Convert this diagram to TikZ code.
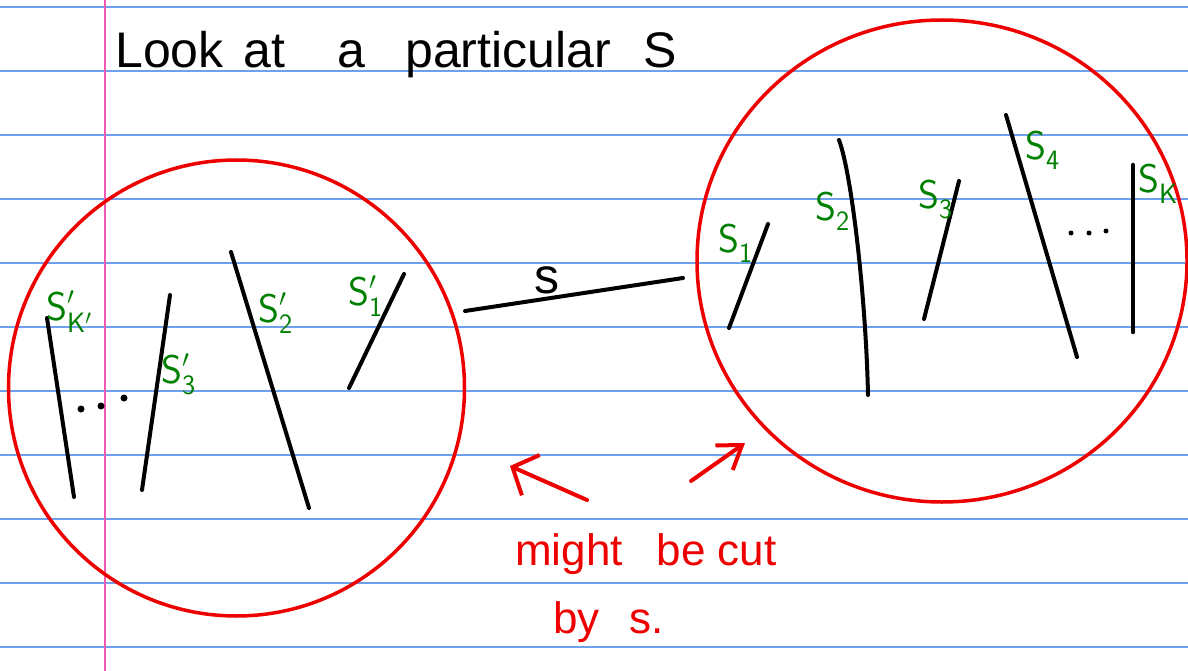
\documentclass[tikz,border=0pt]{standalone}
\usepackage{fontspec}
\setmainfont{Liberation Sans}
\usetikzlibrary{arrows.meta,shapes.geometric}
\definecolor{rulecol}{RGB}{110,160,235}
\definecolor{margincol}{RGB}{240,90,180}
\definecolor{penred}{RGB}{238,0,0}
\definecolor{pengreen}{RGB}{0,128,0}
\newcommand{\pr}{\raisebox{6pt}{$\scriptstyle\prime$}}
\tikzset{
  rule/.style={draw=rulecol, line width=1.5pt},
  marginline/.style={draw=margincol, line width=1.5pt},
  seg/.style={draw=black, line width=4pt, line cap=round},
  ring/.style={draw=penred, line width=3.5pt},
  redarrow/.style={draw=penred, line width=4pt, line cap=round},
  titletext/.style={anchor=base west, inner sep=0pt, font=\fontsize{50}{58}\selectfont},
  redtext/.style={anchor=base west, inner sep=0pt, text=penred, font=\fontsize{44}{52}\selectfont},
  lab/.style={anchor=base west, inner sep=0pt, text=pengreen, font=\fontsize{40}{46}\selectfont},
  dotmark/.style={fill=black, circle, inner sep=0pt, minimum size=7pt}
}
\begin{document}
\begin{tikzpicture}[x=1pt,y=-1pt]
\useasboundingbox (0,0) rectangle (1188,671);
\fill[white] (0,0) rectangle (1188,671);
% ruled paper
\foreach \yy in {7,71,...,647} \draw[rule] (0,\yy) -- (1188,\yy);
\draw[marginline] (105,0) -- (105,671);

% title
\node[titletext] (t1) at (115,68) {Look};
\node[titletext] (t2) at (243,68) {at};
\node[titletext] (t3) at (337,68) {a};
\node[titletext] (t4) at (405,68) {particular};
\node[titletext] (t5) at (643,68) {S};

% circles
\node[ring, circle, minimum size=456pt, inner sep=0pt] (leftc) at (236.5,388) {};
\node[ring, ellipse, minimum width=490pt, minimum height=482pt, inner sep=0pt] (rightc) at (942,261) {};

% left segments
\coordinate (k1) at (47,318);   \coordinate (k2) at (74,497);
\coordinate (a1) at (170,295);  \coordinate (a2) at (142,490);
\coordinate (b1) at (231,252);  \coordinate (b2) at (309,508);
\coordinate (c1) at (404,274);  \coordinate (c2) at (349,388);
\draw[seg] (k1) -- (k2);
\draw[seg] (a1) -- (a2);
\draw[seg] (b1) -- (b2);
\draw[seg] (c1) -- (c2);
\node[dotmark] (d1) at (81,409) {};
\node[dotmark] (d2) at (101,406) {};
\node[dotmark] (d3) at (124,398) {};

\node[lab] (lk) at (46,320) {$\mathsf{S}^{\pr}_{\mathsf{K}'}$};
\node[lab] (l3) at (161,383) {$\mathsf{S}^{\pr}_{\mathsf{3}}$};
\node[lab] (l2) at (258,322) {$\mathsf{S}^{\pr}_{\mathsf{2}}$};
\node[lab] (l1) at (348,305) {$\mathsf{S}^{\pr}_{\mathsf{1}}$};

% middle segment s
\coordinate (s1) at (465,311); \coordinate (s2) at (683,278);
\draw[seg] (s1) -- (s2);
\node[titletext] (slab) at (534,293) {s};

% right segments
\coordinate (r1a) at (768,224);  \coordinate (r1b) at (729,328);
\coordinate (r2a) at (839,140);  \coordinate (r2b) at (868,395);
\coordinate (r3a) at (959,181);  \coordinate (r3b) at (924,319);
\coordinate (r4a) at (1006,115); \coordinate (r4b) at (1077,357);
\coordinate (rka) at (1133,165); \coordinate (rkb) at (1133,332);
\draw[seg] (r1a) -- (r1b);
\draw[seg] (r2a) .. controls (852,175) and (866,300) .. (r2b);
\draw[seg] (r3a) -- (r3b);
\draw[seg] (r4a) -- (r4b);
\draw[seg, line width=4.5pt] (rka) -- (rkb);
\node[dotmark, minimum size=5pt] (e1) at (1071,233) {};
\node[dotmark, minimum size=5pt] (e2) at (1089,233) {};
\node[dotmark, minimum size=5pt] (e3) at (1106,231) {};

\node[lab] (m1) at (718,252) {$\mathsf{S}_{\mathsf{1}}$};
\node[lab] (m2) at (815,220) {$\mathsf{S}_{\mathsf{2}}$};
\node[lab] (m3) at (918,208) {$\mathsf{S}_{\mathsf{3}}$};
\node[lab] (m4) at (1025,160) {$\mathsf{S}_{\mathsf{4}}$};
\node[lab] (mk) at (1138,193) {$\mathsf{S}_{\mathsf{K}}$};

% red arrows
\coordinate (la1) at (587,500); \coordinate (la2) at (510,466);
\coordinate (ra1) at (691,481); \coordinate (ra2) at (745,443);
\draw[redarrow, -{Straight Barb[length=20pt,width=44pt,line width=4pt]}] (la1) -- (la2);
\draw[redarrow, -{Straight Barb[length=22pt,width=30pt,line width=4pt]}] (ra1) -- (ra2);

\node[redtext] (w1) at (515,565) {might\hspace{34pt}be\hspace{12pt}cut};
\node[redtext] (w2) at (553,633) {by\hspace{30pt}s.};
\end{tikzpicture}
\end{document}
